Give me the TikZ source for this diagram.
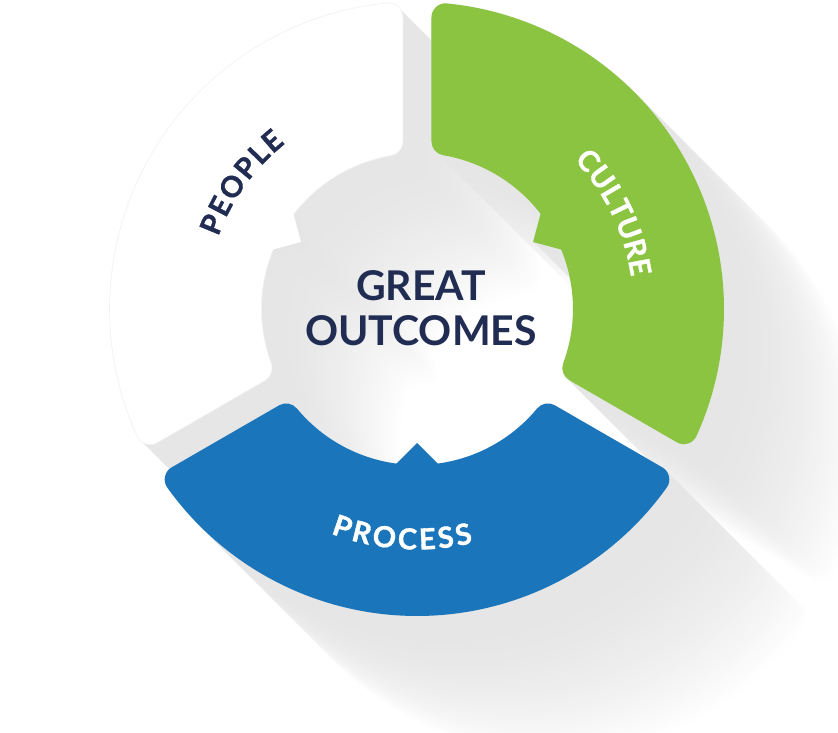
\documentclass[tikz,border=0pt]{standalone}
\usepackage{fontspec}
\setmainfont{Lato}
\newfontfamily\labelfont[BoldFeatures={FakeBold=1.2}]{Lato}
\usetikzlibrary{decorations.text}
\definecolor{cgreen}{RGB}{139,196,65}
\definecolor{cblue}{RGB}{27,117,187}
\definecolor{navy}{RGB}{33,44,82}
% #1 start gap angle, #2 end gap angle, #3 colour
\newcommand\ringseg[3]{%
  \path[fill=#3, draw=#3, line width=28, line join=round]
    ([shift={(417,423)}]#1+5.58:293) arc[start angle=#1+5.58, end angle=#2-5.58, radius=293]
    -- ([shift={(417,423)}]#2-9.65:170) arc[start angle=#2-9.65, end angle=#1+9.65, radius=170]
    -- cycle;
  \begin{scope}[shift={(417,423)}, rotate={(#1+#2)/2}]
    \fill[#3] (134,0) -- (162,28) -- (162,-28) -- cycle;
  \end{scope}
}
\newcommand\ringsegline[3]{%
  \path[draw=#3, line width=29.6, line join=round]
    ([shift={(417,423)}]#1+5.58:293) arc[start angle=#1+5.58, end angle=#2-5.58, radius=293]
    -- ([shift={(417,423)}]#2-9.65:170) arc[start angle=#2-9.65, end angle=#1+9.65, radius=170]
    -- cycle;
}
\tikzset{
  seglabel/.style={decorate, decoration={text along path, text align={fit to path}, text color=#1}},
}
\begin{document}
\begin{tikzpicture}[x=1pt, y=1pt]
  \useasboundingbox (0,0) rectangle (838,732);
  \clip (0,0) rectangle (838,732);
  \fill[white] (0,0) rectangle (838,732);
  % long shadow
  \foreach \s in {140,138,...,0} {
    \pgfmathsetmacro\p{10*(1-(\s/140)^2)}
    \begin{scope}[shift={(\s,-\s)}]
      \ringseg{90}{210}{black!\p}
      \ringseg{-30}{90}{black!\p}
      \ringseg{210}{330}{black!\p}
    \end{scope}
  }
  % segments
  \ringsegline{90}{210}{black!5}
  \ringseg{90}{210}{white}
  \ringseg{-30}{90}{cgreen}
  \ringseg{210}{330}{cblue}
  % labels
  \path[seglabel=navy, decoration={text={|\labelfont\bfseries\fontsize{29}{29}\selectfont|PEOPLE}}]
    ([shift={(417,423)}]160:211.5) arc[start angle=160, end angle=128.5, radius=211.5];
  \path[seglabel=white, decoration={text={|\labelfont\bfseries\fontsize{29}{29}\selectfont|CULTURE}}]
    ([shift={(417,423)}]43.5:216.5) arc[start angle=43.5, end angle=8.5, radius=216.5];
  \path[seglabel=white, decoration={text={|\labelfont\bfseries\fontsize{29}{29}\selectfont|PROCESS}}]
    ([shift={(417,423)}]-111:240.5) arc[start angle=-111, end angle=-76.5, radius=240.5];
  \node[text=navy, font=\bfseries\fontsize{41}{45}\selectfont, align=center, inner sep=0]
    (center) at (421,423.5) {GREAT\\OUTCOMES};
\end{tikzpicture}
\end{document}
